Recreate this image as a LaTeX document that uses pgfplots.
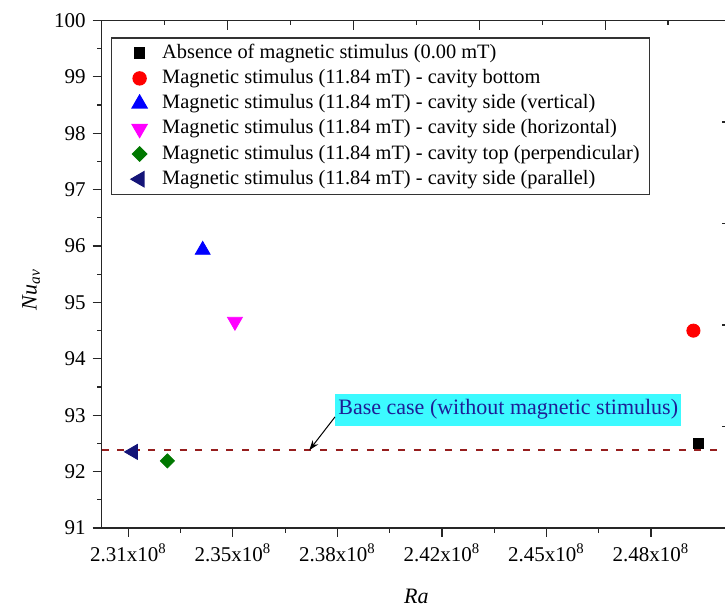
\documentclass[border=0pt]{standalone}
\usepackage{fontspec}
\setmainfont{Liberation Serif}
\usepackage{pgfplots}
\pgfplotsset{compat=1.18}
\usetikzlibrary{arrows.meta}
\definecolor{navyc}{RGB}{20,20,120}
\definecolor{dgreen}{RGB}{0,120,0}
\definecolor{wine}{RGB}{150,30,30}
\definecolor{magc}{RGB}{255,0,255}
\definecolor{annocyan}{RGB}{60,250,255}
\definecolor{annoblue}{RGB}{30,30,150}
\begin{document}
\begin{tikzpicture}
\begin{axis}[
 at={(50.85pt,39pt)}, anchor=south west,
 scale only axis, width=314.65pt, height=253.75pt,
 xmin=2.30109, xmax=2.51178, ymin=91, ymax=100,
 axis x line*=bottom, axis y line*=left,
 xtick={2.31,2.345,2.38,2.415,2.45,2.485},
 xticklabels={2.31x10\textsuperscript{8},2.35x10\textsuperscript{8},2.38x10\textsuperscript{8},2.42x10\textsuperscript{8},2.45x10\textsuperscript{8},2.48x10\textsuperscript{8}},
 ytick={91,92,...,100},
 minor x tick num=1, minor y tick num=1,
 tick align=outside,
 major tick length=4.5pt, minor tick length=2.3pt,
 tick style={black!85, line width=0.6pt},
 axis line style={line width=0.7pt, black!85},
 tick label style={font=\fontsize{10.5}{12}\selectfont},
 /pgf/number format/assume math mode=true,
 xlabel={\textit{Ra}}, ylabel={\textit{Nu}\textsubscript{\textit{av}}},
 xlabel style={font=\fontsize{11}{13}\selectfont, at={(axis description cs:0.5,-0.134)}, anchor=center},
 ylabel style={font=\fontsize{11}{13}\selectfont, at={(axis description cs:-0.112,0.47)}, anchor=center},
 legend style={at={(0.0148,0.9669)}, anchor=north west, font=\fontsize{10.2}{11}\selectfont, draw=black!80, line width=0.6pt, row sep=2.9pt, inner xsep=3pt, inner ysep=2.8pt,
   nodes={inner ysep=0pt, text height=7.4pt, text depth=2.3pt}},
 legend cell align=left,
 legend image code/.code={\path[draw=none,fill=none] (0pt,0pt) -- (20.3pt,0pt); \draw plot coordinates {(11pt,0pt)};},
]
\addplot[forget plot, wine, line width=0.7pt, dash pattern=on 3.5pt off 4.3pt] coordinates {(2.30109,92.38) (2.51178,92.38)};
\addplot[only marks, mark=square*, mark size=2.6pt, black] coordinates {(2.5009,92.50)};
\addlegendentry{Absence of magnetic stimulus (0.00 mT)}
\addplot[only marks, mark=*, mark size=3.3pt, red] coordinates {(2.4992,94.50)};
\addlegendentry{Magnetic stimulus (11.84 mT) - cavity bottom}
\addplot[only marks, mark=triangle*, mark size=4.3pt, blue] coordinates {(2.3349,95.93)};
\addlegendentry{Magnetic stimulus (11.84 mT) - cavity side (vertical)}
\addplot[only marks, mark=triangle*, mark options={rotate=180}, mark size=4.3pt, magc] coordinates {(2.3457,94.66)};
\addlegendentry{Magnetic stimulus (11.84 mT) - cavity side (horizontal)}
\addplot[only marks, mark=square*, mark options={rotate=45}, mark size=2.5pt, dgreen] coordinates {(2.3231,92.19)};
\addlegendentry{Magnetic stimulus (11.84 mT) - cavity top (perpendicular)}
\addplot[only marks, mark=triangle*, mark options={rotate=90}, mark size=4.3pt, navyc] coordinates {(2.3116,92.35)};
\addlegendentry{Magnetic stimulus (11.84 mT) - cavity side (parallel)}
\node[fill=annocyan, text=annoblue, font=\fontsize{11}{12}\selectfont, anchor=south west, minimum width=172pt, minimum height=16pt, inner sep=1.5pt] at (axis cs:2.3792,92.81) {Base case (without magnetic stimulus)};
\draw[-{Stealth[length=5pt,width=3.5pt]}, black, line width=0.5pt] (axis cs:2.3792,92.97) -- (axis cs:2.3706,92.38);
\end{axis}
\begin{axis}[
 at={(50.85pt,39pt)}, anchor=south west,
 scale only axis, width=314.65pt, height=253.75pt,
 xmin=0, xmax=5, ymin=0, ymax=5,
 axis x line*=top, axis y line*=right,
 xtick={0,...,5}, ytick={0,...,5},
 minor tick num=1, tick align=inside,
 xticklabels={}, yticklabels={},
 major tick length=4.5pt, minor tick length=2.3pt,
 tick style={black!85, line width=0.6pt},
 axis line style={line width=0.7pt, black!85},
]
\addplot[draw=none, forget plot] coordinates {(0,0)};
\end{axis}
\pgfresetboundingbox
\useasboundingbox (0,0) rectangle (362.5pt,303pt);
\end{tikzpicture}
\end{document}
